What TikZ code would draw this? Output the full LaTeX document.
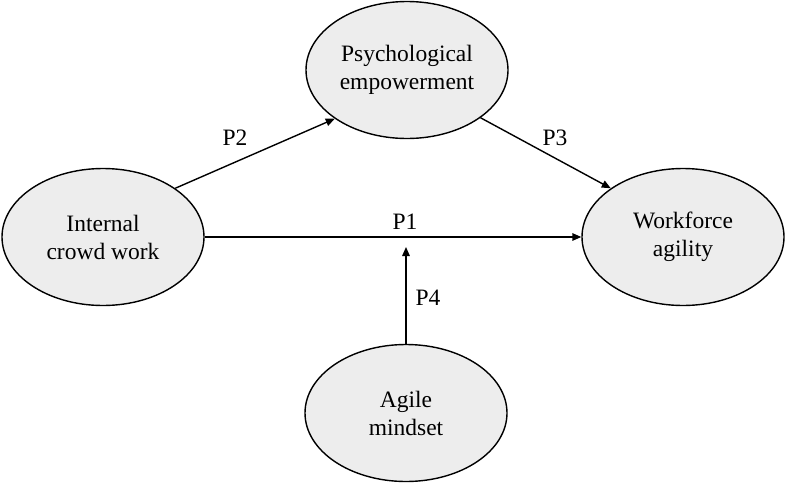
\documentclass[tikz,border=0pt]{standalone}
\usepackage{fontspec}
\setmainfont{Liberation Serif}
\usetikzlibrary{shapes.geometric,arrows.meta}
\definecolor{construct}{HTML}{EDEDED}
\begin{document}
\begin{tikzpicture}[x=1pt,y=-1pt,
  construct/.style={ellipse, draw=black, line width=1.4pt, fill=construct,
    inner sep=0pt, minimum width=202pt, minimum height=137pt,
    align=center, font=\fontsize{23.5}{28}\selectfont},
  path/.style={line width=1.4pt, -{Triangle[length=9pt,width=7.5pt]}},
  plabel/.style={font=\fontsize{23.5}{28}\selectfont, inner sep=0pt}]
  \useasboundingbox (0,0) rectangle (787,482);
  % constructs
  \node[construct] (pe) at (407,70) {Psychological\\empowerment};
  \node[construct] (ic) at (103,237) {Internal\\crowd work};
  \node[construct] (wa) at (683,237) {Workforce\\agility};
  \node[construct] (am) at (406,413) {Agile\\mindset};
  % paths
  \draw[path] (ic.east) -- (wa.west);
  \draw[path] (ic.34) -- (pe.214);
  \draw[path] (pe.-33) -- (wa.146);
  \coordinate (mod) at (406,247);
  \draw[path] (am.north) -- (mod);
  % path labels
  \node[plabel] (p1) at (405,222) {P1};
  \node[plabel] (p2) at (235,138) {P2};
  \node[plabel] (p3) at (555,138) {P3};
  \node[plabel] (p4) at (428,298) {P4};
\end{tikzpicture}
\end{document}
